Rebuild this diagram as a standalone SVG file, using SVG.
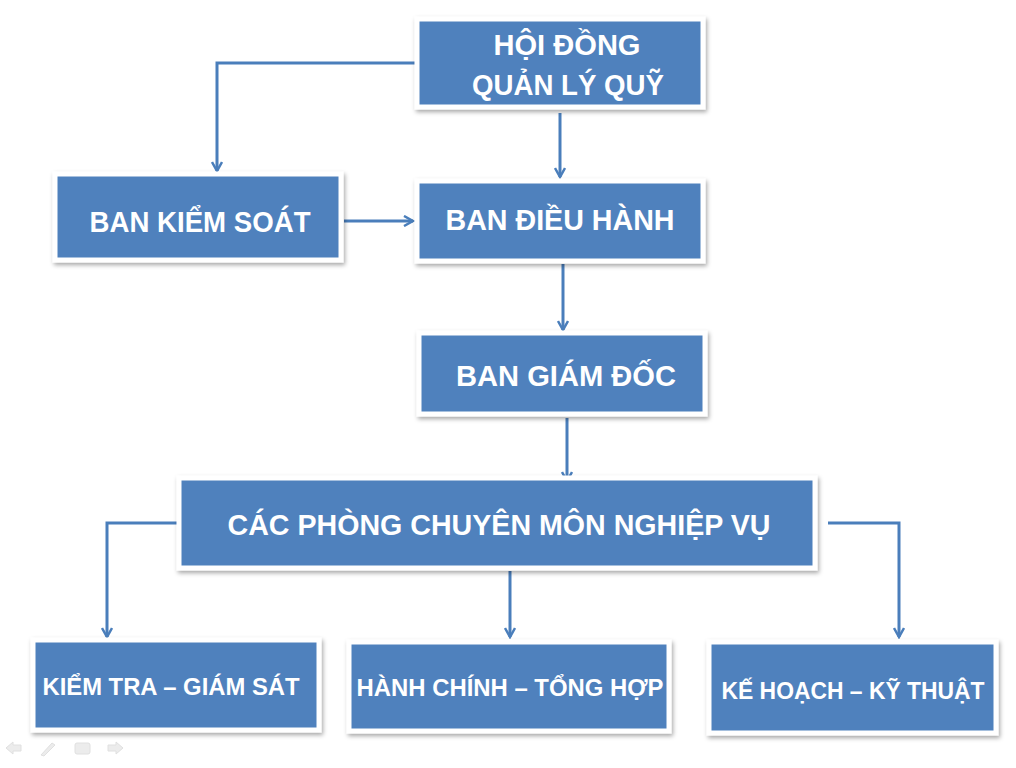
<svg xmlns="http://www.w3.org/2000/svg" width="1016" height="768" viewBox="0 0 1016 768">
<defs>
<filter id="sh" x="-10%" y="-10%" width="120%" height="130%">
<feDropShadow dx="1.5" dy="2.5" stdDeviation="2" flood-color="#000" flood-opacity="0.35"/>
</filter>
<marker id="ar" viewBox="0 0 12 12" refX="10" refY="6" markerWidth="12" markerHeight="12" markerUnits="userSpaceOnUse" orient="auto">
<path d="M1,1 L10,6 L1,11" fill="none" stroke="#4A7EBB" stroke-width="2.5"/>
</marker>
<style>
.box{fill:#4F81BD;stroke:#fff;stroke-width:5;filter:url(#sh)}
.t{fill:#fff;font-family:"Liberation Sans",Arial,sans-serif;font-weight:bold;font-size:29px;text-anchor:middle}
.s{font-size:24px}
.c{fill:none;stroke:#4A7EBB;stroke-width:3;marker-end:url(#ar)}
.ic{fill:#ececec;stroke:#e0e0e0;stroke-width:1}
</style>
</defs>
<rect width="1016" height="768" fill="#fff"/>
<g id="connectors">
<path class="c" d="M417,63 H217 V171"/>
<path class="c" d="M560,113 V177"/>
<path class="c" d="M344,221 H413"/>
<path class="c" d="M563,264 V330"/>
<path class="c" d="M567,418 V481"/>
<path class="c" d="M179,523 H107 V637"/>
<path class="c" d="M510,571 V637"/>
<path class="c" d="M828,523 H899 V637"/>
</g>
<g id="n-hoidong">
<rect class="box" x="417" y="19" width="286" height="88"/>
<text class="t" x="567" y="55" textLength="147" lengthAdjust="spacingAndGlyphs">HỘI ĐỒNG</text>
<text class="t" x="568" y="95" textLength="192" lengthAdjust="spacingAndGlyphs">QUẢN LÝ QUỸ</text>
</g>
<g id="n-kiemsoat">
<rect class="box" x="55" y="174" width="286" height="86"/>
<text class="t" x="200" y="232" textLength="221" lengthAdjust="spacingAndGlyphs">BAN KIỂM SOÁT</text>
</g>
<g id="n-dieuhanh">
<rect class="box" x="417" y="181" width="286" height="80"/>
<text class="t" x="560" y="230" textLength="229" lengthAdjust="spacingAndGlyphs">BAN ĐIỀU HÀNH</text>
</g>
<g id="n-giamdoc">
<rect class="box" x="419" y="333" width="286" height="81"/>
<text class="t" x="566" y="386" textLength="220" lengthAdjust="spacingAndGlyphs">BAN GIÁM ĐỐC</text>
</g>
<g id="n-cacphong">
<rect class="box" x="179" y="478" width="636" height="90"/>
<text class="t" x="499" y="535" textLength="543" lengthAdjust="spacingAndGlyphs">CÁC PHÒNG CHUYÊN MÔN NGHIỆP VỤ</text>
</g>
<g id="n-kiemtra">
<rect class="box" x="33" y="640" width="286" height="90"/>
<text class="t s" x="171" y="695" textLength="257" lengthAdjust="spacingAndGlyphs">KIỂM TRA – GIÁM SÁT</text>
</g>
<g id="n-hanhchinh">
<rect class="box" x="349" y="642" width="320" height="89"/>
<text class="t s" x="510" y="696" textLength="307" lengthAdjust="spacingAndGlyphs">HÀNH CHÍNH – TỔNG HỢP</text>
</g>
<g id="n-kehoach">
<rect class="box" x="709" y="642" width="287" height="91"/>
<text class="t s" x="853" y="699" textLength="263" lengthAdjust="spacingAndGlyphs">KẾ HOẠCH – KỸ THUẬT</text>
</g>
<g id="nav">
<path class="ic" d="M6,748 L13,742 V745 H21 V751 H13 V754 Z"/>
<path class="ic" d="M41,755 L52,743 L55,745 L44,756 Z"/>
<rect class="ic" x="75" y="743" width="15" height="11" rx="2"/>
<path class="ic" d="M123,748 L116,742 V745 H108 V751 H116 V754 Z"/>
</g>
</svg>
